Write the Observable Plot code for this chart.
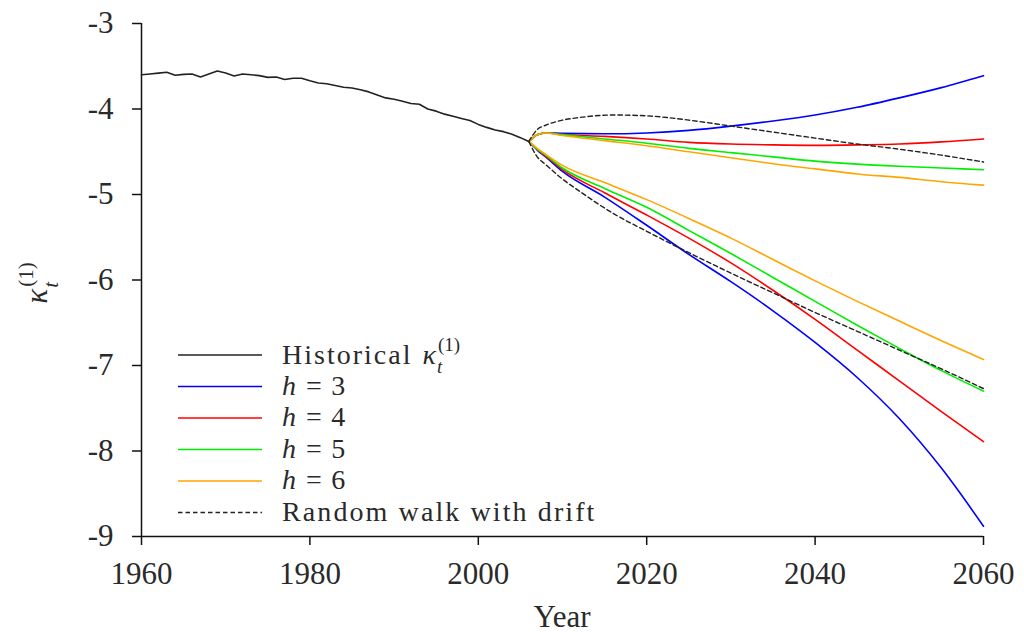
<!DOCTYPE html>
<html>
<head>
<meta charset="utf-8">
<script src="https://cdn.jsdelivr.net/npm/d3@7"></script>
<script src="https://cdn.jsdelivr.net/npm/@observablehq/plot@0.6"></script>
<style>
  html, body { margin: 0; padding: 0; background: #fff; }
  #chart { position: relative; width: 1024px; height: 632px; }
  #chart svg text { font-family: 'Liberation Serif', 'Times New Roman', serif; }
</style>
</head>
<body>
<div id="chart"></div>
<script>
// ---------- data ----------
const xTicks = [1960, 1980, 2000, 2020, 2040, 2060];
const yTicks = [-9, -8, -7, -6, -5, -4, -3];

const histYears = d3.range(1960, 2007);
const histValues = [
  -3.60, -3.59, -3.58, -3.57, -3.605, -3.595, -3.59, -3.625, -3.59, -3.555,
  -3.58, -3.615, -3.59, -3.60, -3.61, -3.63, -3.625, -3.655, -3.64, -3.64,
  -3.67, -3.695, -3.705, -3.725, -3.745, -3.755, -3.775, -3.80, -3.835, -3.87,
  -3.885, -3.91, -3.935, -3.945, -4.00, -4.025, -4.06, -4.085, -4.11, -4.135,
  -4.18, -4.215, -4.245, -4.265, -4.295, -4.335, -4.38
];

const projYears = [2006, 2007, 2008, 2010, 2015, 2020, 2025, 2030, 2035, 2040, 2045, 2050, 2055, 2060];
const h3Upper = [-4.38, -4.30, -4.28, -4.285, -4.29, -4.28, -4.25, -4.20, -4.14, -4.07, -3.98, -3.87, -3.75, -3.61];
const h4Upper = [-4.38, -4.30, -4.28, -4.30, -4.32, -4.35, -4.39, -4.41, -4.42, -4.425, -4.42, -4.41, -4.385, -4.35];
const h5Upper = [-4.38, -4.30, -4.28, -4.30, -4.35, -4.40, -4.46, -4.51, -4.56, -4.61, -4.645, -4.67, -4.69, -4.71];
const h6Upper = [-4.38, -4.30, -4.28, -4.31, -4.37, -4.43, -4.50, -4.57, -4.64, -4.70, -4.76, -4.80, -4.85, -4.89];
const h3Lower = [-4.38, -4.48, -4.56, -4.73, -5.03, -5.36, -5.70, -6.02, -6.36, -6.73, -7.14, -7.62, -8.20, -8.88];
const h4Lower = [-4.38, -4.47, -4.55, -4.71, -4.98, -5.24, -5.51, -5.80, -6.12, -6.46, -6.82, -7.18, -7.54, -7.89];
const h5Lower = [-4.38, -4.47, -4.54, -4.69, -4.93, -5.15, -5.42, -5.69, -5.97, -6.25, -6.53, -6.80, -7.06, -7.30];
const h6Lower = [-4.38, -4.46, -4.53, -4.66, -4.86, -5.06, -5.28, -5.51, -5.76, -6.01, -6.25, -6.48, -6.71, -6.93];

const rwYears = [2006, 2007, 2008, 2010, 2012, 2016, 2020, 2025, 2030, 2035, 2040, 2045, 2050, 2055, 2060];
const rwUpper = [-4.38, -4.24, -4.19, -4.13, -4.10, -4.07, -4.08, -4.13, -4.20, -4.27, -4.34, -4.41, -4.47, -4.54, -4.62];
const rwLower = [-4.38, -4.56, -4.65, -4.82, -4.96, -5.22, -5.43, -5.68, -5.92, -6.15, -6.38, -6.60, -6.82, -7.04, -7.27];

const seriesNames = ["h = 3", "h = 4", "h = 5", "h = 6"];
const seriesColors = ["#0000ff", "#ff0000", "#00ee00", "#ffa500"];

// ---------- build tables ----------
const hist = histYears.map((x, i) => ({x, y: histValues[i]}));
const proj = [];
[[h3Upper, h3Lower], [h4Upper, h4Lower], [h5Upper, h5Lower], [h6Upper, h6Lower]].forEach(([up, lo], k) => {
  projYears.forEach((x, i) => proj.push({x, y: up[i], s: seriesNames[k], z: seriesNames[k] + " upper"}));
  projYears.forEach((x, i) => proj.push({x, y: lo[i], s: seriesNames[k], z: seriesNames[k] + " lower"}));
});
const rw = [];
rwYears.forEach((x, i) => rw.push({x, y: rwUpper[i], z: "upper"}));
rwYears.forEach((x, i) => rw.push({x, y: rwLower[i], z: "lower"}));

const FONT = "Liberation Serif";
const TXT = "#2a2a2a";

const chart = Plot.plot({
  width: 1024,
  height: 632,
  marginLeft: 141,
  marginRight: 41,
  marginTop: 23,
  marginBottom: 96,
  style: {fontFamily: FONT, fontSize: "31px", color: "#111", background: "#fff", overflow: "visible"},
  x: {domain: [1960, 2060]},
  y: {domain: [-9, -3]},
  color: {domain: seriesNames, range: seriesColors},
  marks: [
    Plot.axisX({ticks: xTicks, tickFormat: d => String(d), tickSize: 9, tickPadding: 16, strokeWidth: 1.5, label: null, fill: TXT, fontFamily: FONT, fontSize: 31}),
    Plot.axisY({ticks: yTicks, tickFormat: d => String(d), tickSize: 9, tickPadding: 19, strokeWidth: 1.5, label: null, fill: TXT, fontFamily: FONT, fontSize: 31}),
    Plot.ruleX([1960], {stroke: "#111", strokeWidth: 1.5}),
    Plot.ruleY([-9], {stroke: "#111", strokeWidth: 1.5}),
    Plot.line(hist, {x: "x", y: "y", stroke: "#222", strokeWidth: 1.6}),
    Plot.line(proj, {x: "x", y: "y", z: "z", stroke: "s", strokeWidth: 1.6, curve: "monotone-x"}),
    Plot.line(rw, {x: "x", y: "y", z: "z", stroke: "#222", strokeWidth: 1.4, strokeDasharray: "4.5,3", curve: "monotone-x"})
  ]
});

document.getElementById("chart").appendChild(chart);

// ---------- axis titles and legend (text as real text) ----------
const svg = d3.select(chart);

function addText(parent, x, y, str, opts = {}) {
  const t = parent.append("text")
    .attr("x", x).attr("y", y)
    .attr("text-anchor", "start")
    .attr("font-family", FONT)
    .attr("font-size", opts.size || 31)
    .attr("fill", TXT)
    .text(str);
  if (opts.italic) t.attr("font-style", "italic");
  if (opts.ls) t.attr("letter-spacing", opts.ls);
  return t;
}
// kappa_t^(1) built from separate text pieces; returns total width
function addKappa(parent, x, y, size) {
  const s = size / 31;
  const k = addText(parent, x, y, "κ", {italic: true, size});
  const kw = k.node().getComputedTextLength();
  const sup = addText(parent, x + kw + 2, y - 14 * s, "(1)", {size: 21 * s});
  addText(parent, x + kw + 1, y + 11 * s, "t", {size: 21 * s, italic: true});
  return kw + 2 + sup.node().getComputedTextLength();
}

// x axis title
svg.append("text")
  .attr("x", 562).attr("y", 627)
  .attr("text-anchor", "middle")
  .attr("font-family", FONT).attr("font-size", 31).attr("fill", TXT)
  .text("Year");

// y axis title
const yg = svg.append("g").attr("transform", "translate(47,283) rotate(-90)");
const yTmp = yg.append("g");
const yw = addKappa(yTmp, 0, 0, 31);
yTmp.attr("transform", `translate(${-yw / 2},0)`);

// legend
const LS = 28; // legend font size
const legendRows = [
  {label: "Historical", stroke: "#222", dash: null},
  {label: seriesNames[0], stroke: seriesColors[0], dash: null},
  {label: seriesNames[1], stroke: seriesColors[1], dash: null},
  {label: seriesNames[2], stroke: seriesColors[2], dash: null},
  {label: seriesNames[3], stroke: seriesColors[3], dash: null},
  {label: "Random walk with drift", stroke: "#222", dash: "4.5,3"}
];
const rowY = [355, 386.5, 418, 449.5, 481, 512.5];
const lg = svg.append("g");
legendRows.forEach((r, i) => {
  const y = rowY[i];
  lg.append("line").attr("x1", 178).attr("x2", 262).attr("y1", y).attr("y2", y)
    .attr("stroke", r.stroke).attr("stroke-width", 1.6)
    .attr("stroke-dasharray", r.dash);
  if (i === 0) {
    const t = addText(lg, 282, y + 8.5, "Historical", {ls: 2, size: LS});
    const w = t.node().getComputedTextLength();
    addKappa(lg, 282 + w + 10, y + 8.5, LS);
  } else if (i === 5) {
    addText(lg, 282, y + 8, r.label, {ls: 2.1, size: LS});
  } else {
    const parts = r.label.split(" = ");
    const h = addText(lg, 282, y + 8, parts[0], {italic: true, size: LS});
    const w = h.node().getComputedTextLength();
    addText(lg, 282 + w + 10, y + 8, "=\u2004" + parts[1], {size: LS});
  }
});
</script>
</body>
</html>
